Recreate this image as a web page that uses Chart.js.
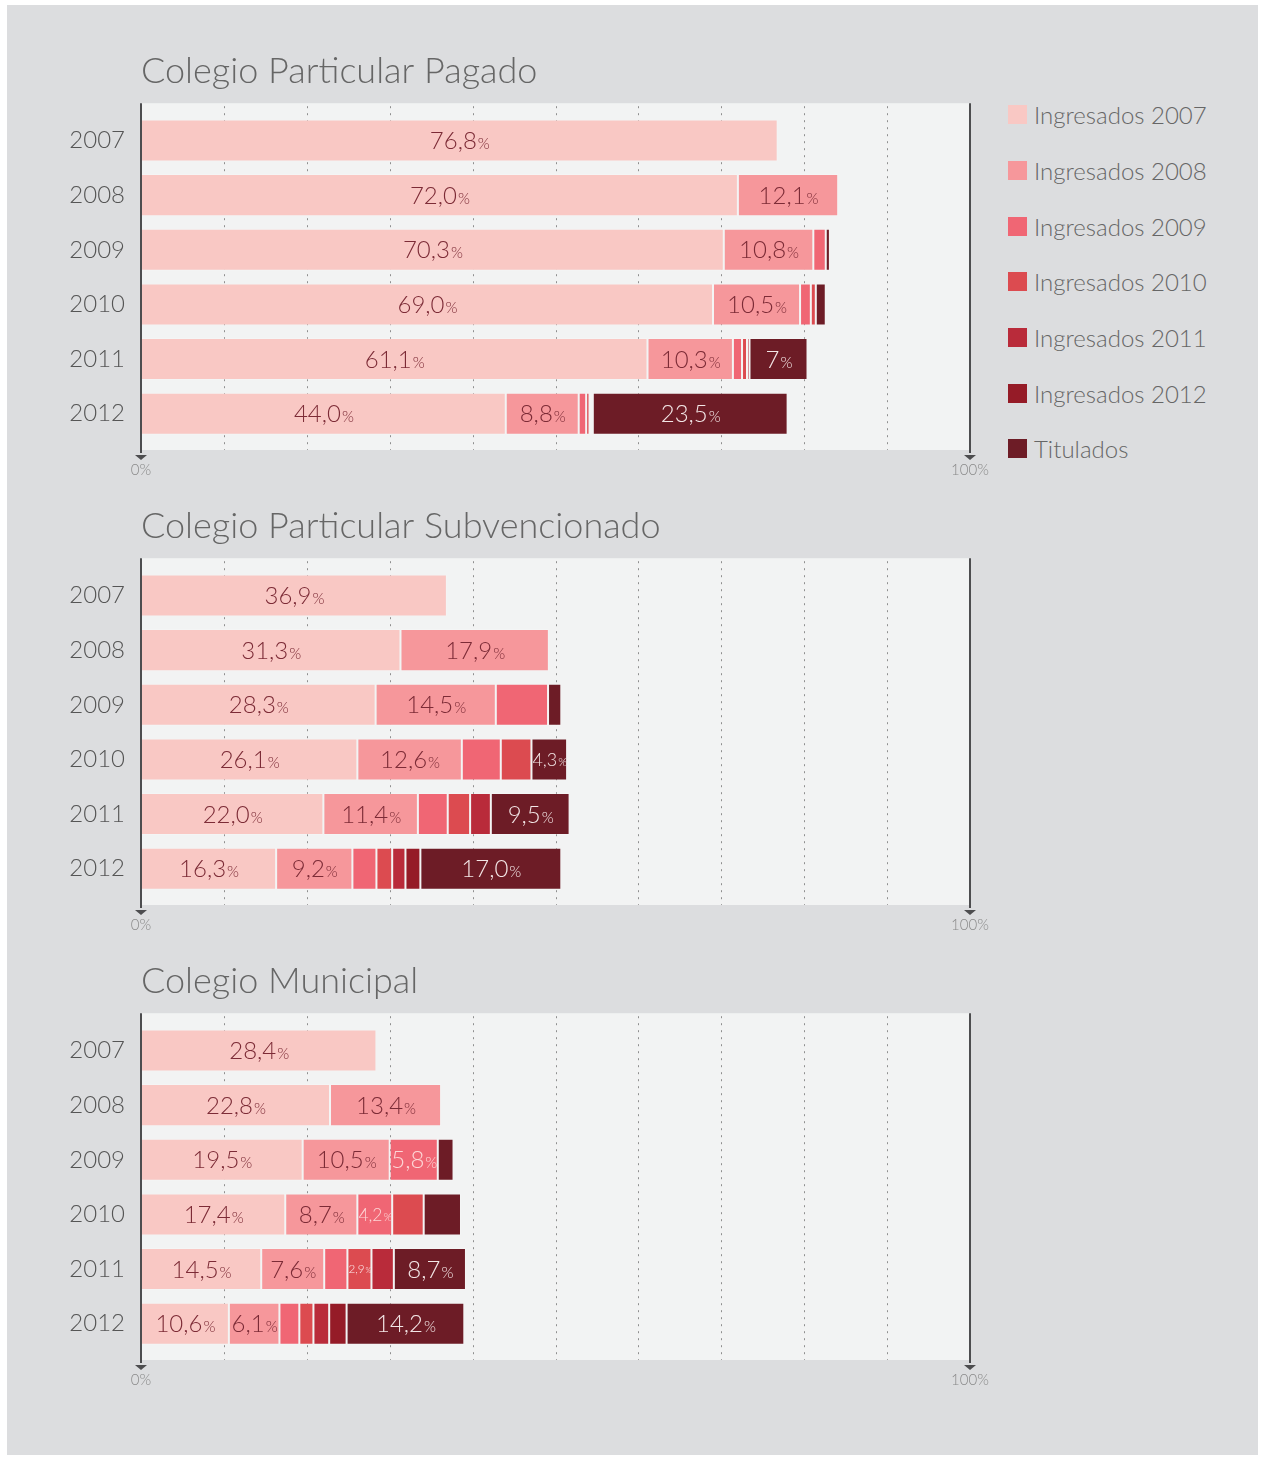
<!DOCTYPE html>
<html lang="es">
<head>
<meta charset="utf-8">
<title>Ingresados y titulados por tipo de colegio</title>
<script src="https://cdn.jsdelivr.net/npm/chart.js@4.4.1/dist/chart.umd.min.js"></script>
<style>
  html, body { margin: 0; padding: 0; background: #ffffff; }
  body { position: relative; width: 1265px; height: 1459px; overflow: hidden; font-family: Lato, "Open Sans", sans-serif; }
  .sheet { position: absolute; left: 7px; top: 5px; width: 1251px; height: 1450px; background: #dcdddf; }
  .panel { position: absolute; left: 0; width: 1000px; height: 490px; }
  .legend { position: absolute; left: 1008px; top: 87px; }
  .legend .item { display: flex; align-items: center; height: 55.7px; font-weight: 300; font-size: 24px; color: #666; }
  .legend .swatch { width: 19px; height: 19px; margin-right: 7px; flex: none; }
</style>
</head>
<body>
<div class="sheet"></div>
<div class="panel" style="top:0px"><canvas id="pagado"></canvas></div>
<div class="panel" style="top:455px"><canvas id="subvencionado"></canvas></div>
<div class="panel" style="top:910px"><canvas id="municipal"></canvas></div>
<div class="legend" id="legend"></div>

<script>
// rows of every panel
const years = ['2007', '2008', '2009', '2010', '2011', '2012'];
const seriesNames = ['Ingresados 2007', 'Ingresados 2008', 'Ingresados 2009', 'Ingresados 2010',
                     'Ingresados 2011', 'Ingresados 2012', 'Titulados'];

// one inner array per series, one value per row (null = no segment)
const pagadoValues = [
  [76.8, 72.0, 70.3, 69.0, 61.1, 44.0],
  [null, 12.1, 10.8, 10.5, 10.3, 8.8],
  [null, null, 1.5, 1.3, 1.1, 0.9],
  [null, null, null, 0.6, 0.6, 0.4],
  [null, null, null, null, 0.3, 0.2],
  [null, null, null, null, null, 0.2],
  [null, null, 0.5, 1.2, 7.0, 23.5]
];
const pagadoLabels = [
  ['76,8', '72,0', '70,3', '69,0', '61,1', '44,0'],
  [null, '12,1', '10,8', '10,5', '10,3', '8,8'],
  [null, null, null, null, null, null],
  [null, null, null, null, null, null],
  [null, null, null, null, null, null],
  [null, null, null, null, null, null],
  [null, null, null, null, '7', '23,5']
];

const subvencionadoValues = [
  [36.9, 31.3, 28.3, 26.1, 22.0, 16.3],
  [null, 17.9, 14.5, 12.6, 11.4, 9.2],
  [null, null, 6.3, 4.7, 3.6, 2.9],
  [null, null, null, 3.7, 2.7, 1.9],
  [null, null, null, null, 2.5, 1.6],
  [null, null, null, null, null, 1.8],
  [null, null, 1.6, 4.3, 9.5, 17.0]
];
const subvencionadoLabels = [
  ['36,9', '31,3', '28,3', '26,1', '22,0', '16,3'],
  [null, '17,9', '14,5', '12,6', '11,4', '9,2'],
  [null, null, null, null, null, null],
  [null, null, null, null, null, null],
  [null, null, null, null, null, null],
  [null, null, null, null, null, null],
  [null, null, null, '4,3', '9,5', '17,0']
];

const municipalValues = [
  [28.4, 22.8, 19.5, 17.4, 14.5, 10.6],
  [null, 13.4, 10.5, 8.7, 7.6, 6.1],
  [null, null, 5.8, 4.2, 2.8, 2.4],
  [null, null, null, 3.8, 2.9, 1.7],
  [null, null, null, null, 2.7, 1.9],
  [null, null, null, null, null, 2.1],
  [null, null, 1.9, 4.5, 8.7, 14.2]
];
const municipalLabels = [
  ['28,4', '22,8', '19,5', '17,4', '14,5', '10,6'],
  [null, '13,4', '10,5', '8,7', '7,6', '6,1'],
  [null, null, '5,8', '4,2', null, null],
  [null, null, null, null, '2,9', null],
  [null, null, null, null, null, null],
  [null, null, null, null, null, null],
  [null, null, null, null, '8,7', '14,2']
];

const seriesColors = ['#f9c8c4', '#f6979b', '#f06674', '#dc4b50', '#b92b3a', '#951b27', '#6d1c26'];
const labelInk = ['#7c2b36', '#7c2b36', '#fdd6d6', '#fbeaea', '#fbeaea', '#fbeaea', '#f3e6e6'];
const FONT = 'Lato, "Open Sans", sans-serif';

// legend on the right
const legendEl = document.getElementById('legend');
seriesNames.forEach((name, i) => {
  legendEl.innerHTML += `<div class="item"><span class="swatch" style="background:${seriesColors[i]}"></span>${name}</div>`;
});

function drawValueLabel(ctx, text, cx, cy, maxW, color) {
  let size = 24;
  const pct = 0.64;
  const measure = s => {
    ctx.font = `300 ${s}px ${FONT}`;
    const w1 = ctx.measureText(text).width;
    ctx.font = `300 ${s * pct}px ${FONT}`;
    const w2 = ctx.measureText('%').width;
    return [w1, w2];
  };
  let [w1, w2] = measure(size);
  if (w1 + w2 > maxW) {
    size = size * maxW / (w1 + w2);
    [w1, w2] = measure(size);
  }
  const x0 = cx - (w1 + w2) / 2;
  const base = cy + size * 0.36;
  ctx.fillStyle = color;
  ctx.textAlign = 'left';
  ctx.textBaseline = 'alphabetic';
  ctx.font = `300 ${size}px ${FONT}`;
  ctx.fillText(text, x0, base);
  ctx.font = `300 ${size * pct}px ${FONT}`;
  ctx.fillText('%', x0 + w1 + 1, base);
}

// panel background, dotted grid, 0%/100% rules and the value labels
const panelDecor = {
  id: 'panelDecor',
  beforeDatasetsDraw(chart) {
    const { ctx, chartArea: a, scales: { x } } = chart;
    const top = a.top - 10, bottom = a.bottom + 9;
    ctx.save();
    ctx.fillStyle = '#f2f3f3';
    ctx.fillRect(a.left, top, a.right - a.left, bottom - top);
    ctx.strokeStyle = '#8f8f8f';
    ctx.lineWidth = 1;
    ctx.setLineDash([2, 5]);
    x.ticks.forEach(t => {
      if (t.value <= x.min || t.value >= x.max) return;
      const px = Math.round(x.getPixelForValue(t.value)) + 0.5;
      ctx.beginPath();
      ctx.moveTo(px, top + 3);
      ctx.lineTo(px, bottom);
      ctx.stroke();
    });
    ctx.restore();
  },
  afterDatasetsDraw(chart, args, opts) {
    const { ctx, chartArea: a, scales: { x } } = chart;
    const top = a.top - 10, bottom = a.bottom + 10;
    ctx.save();
    ctx.strokeStyle = '#4d4d4f';
    ctx.fillStyle = '#4d4d4f';
    ctx.lineWidth = 2;
    [x.min, x.max].forEach(v => {
      const px = x.getPixelForValue(v);
      ctx.beginPath();
      ctx.moveTo(px, top);
      ctx.lineTo(px, bottom + 2);
      ctx.stroke();
      ctx.beginPath();
      ctx.moveTo(px - 6, bottom + 4);
      ctx.lineTo(px + 6, bottom + 4);
      ctx.lineTo(px, bottom + 9);
      ctx.closePath();
      ctx.fill();
    });

    const labels = opts.labels;
    chart.data.datasets.forEach((ds, i) => {
      const meta = chart.getDatasetMeta(i);
      meta.data.forEach((bar, j) => {
        const text = labels[i][j];
        if (!text || ds.data[j] == null) return;
        const left = Math.min(bar.base, bar.x), right = Math.max(bar.base, bar.x);
        drawValueLabel(ctx, text, (left + right) / 2, bar.y, right - left - 2, labelInk[i]);
      });
    });
    ctx.restore();
  }
};

function buildPanel(canvasId, title, values, labels) {
  const ctx = document.getElementById(canvasId).getContext('2d');
  return new Chart(ctx, {
    type: 'bar',
    data: {
      labels: years,
      datasets: values.map((row, i) => ({
        label: seriesNames[i],
        data: row,
        backgroundColor: seriesColors[i],
        borderColor: 'rgba(255,255,255,0.18)',
        borderWidth: 1,
        borderSkipped: false,
        categoryPercentage: 1,
        barPercentage: 0.77,
      })),
    },
    plugins: [panelDecor],
    options: {
      indexAxis: 'y',
      responsive: true,
      maintainAspectRatio: false,
      animation: false,
      layout: { padding: { left: 0, right: 30, top: 0, bottom: 12 } },
      plugins: {
        legend: { display: false },
        tooltip: { enabled: false },
        title: {
          display: true,
          text: title,
          align: 'start',
          fullSize: false,
          color: '#666',
          font: { family: FONT, size: 36, weight: '300' },
          padding: { top: 50, bottom: 20 },
        },
        panelDecor: { labels: labels },
      },
      scales: {
        x: {
          stacked: true,
          min: 0,
          max: 100,
          grid: { display: false, drawTicks: false },
          border: { display: false },
          afterFit: s => { s.height = 37; s.paddingLeft = 0; s.paddingRight = 0; },
          ticks: {
            stepSize: 10,
            padding: 20,
            color: '#8a8a8a',
            font: { family: FONT, size: 15, weight: '300' },
            maxRotation: 0,
            autoSkip: false,
            callback: v => (v === 0 || v === 100) ? v + '%' : '',
          },
        },
        y: {
          stacked: true,
          grid: { display: false, drawTicks: false },
          border: { display: false },
          afterFit: s => { s.width = 141; },
          ticks: {
            padding: 16,
            color: '#555',
            font: { family: FONT, size: 24, weight: '300' },
          },
        },
      },
    },
  });
}

document.fonts.load('300 24px Lato').finally(() => {
  buildPanel('pagado', 'Colegio Particular Pagado', pagadoValues, pagadoLabels);
  buildPanel('subvencionado', 'Colegio Particular Subvencionado', subvencionadoValues, subvencionadoLabels);
  buildPanel('municipal', 'Colegio Municipal', municipalValues, municipalLabels);
});
</script>
</body>
</html>
